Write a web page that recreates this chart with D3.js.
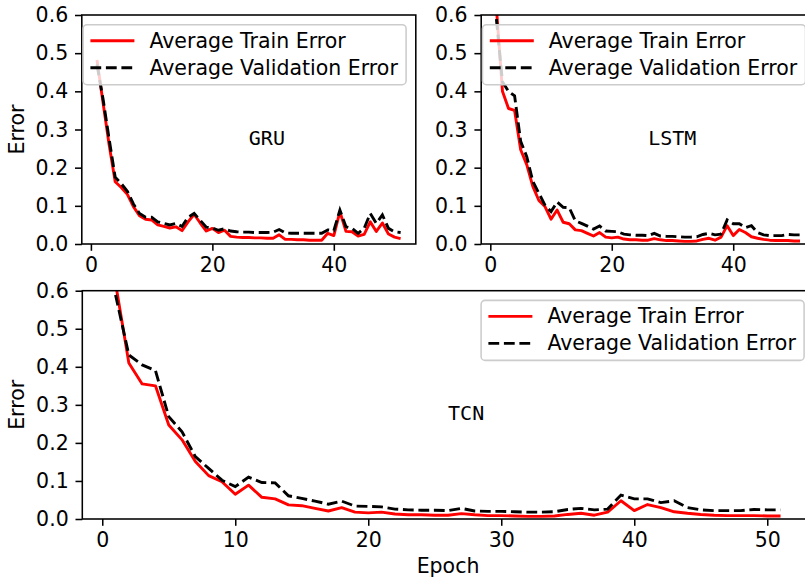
<!DOCTYPE html>
<html>
<head>
<meta charset="utf-8">
<style>
  body { margin: 0; background: #fff; }
  svg { display: block; font-family: "DejaVu Sans", sans-serif; }
</style>
</head>
<body>
<script src="https://cdn.jsdelivr.net/npm/d3@7"></script>
<script>
// ---- data ----
const epochs = [1,2,3,4,5,6,7,8,9,10,11,12,13,14,15,16,17,18,19,20,21,22,23,24,25,26,
  27,28,29,30,31,32,33,34,35,36,37,38,39,40,41,42,43,44,45,46,47,48,49,50,51];

const gruTrain = [0.482,0.37,0.26,0.163,0.148,0.13,0.098,0.074,0.065,0.063,0.050,0.046,0.042,0.045,0.035,
  0.058,0.078,0.055,0.034,0.041,0.030,0.036,0.020,0.018,0.017,0.017,0.016,0.016,0.015,0.015,
  0.024,0.012,0.012,0.011,0.011,0.010,0.010,0.010,0.028,0.022,0.085,0.033,0.032,0.021,0.025,
  0.058,0.033,0.055,0.026,0.018,0.014];
const gruValid = [0.47,0.38,0.275,0.175,0.158,0.138,0.105,0.080,0.070,0.070,0.058,0.054,0.050,0.054,0.046,
  0.070,0.080,0.062,0.044,0.042,0.036,0.040,0.034,0.032,0.031,0.031,0.030,0.030,0.030,0.031,
  0.038,0.029,0.028,0.028,0.028,0.028,0.028,0.028,0.037,0.035,0.089,0.045,0.041,0.028,0.041,
  0.080,0.054,0.076,0.041,0.032,0.030];

const lstmTrain = [0.62,0.40,0.355,0.35,0.247,0.208,0.151,0.114,0.098,0.065,0.089,0.057,0.053,0.037,0.035,
  0.028,0.021,0.030,0.018,0.016,0.018,0.013,0.011,0.011,0.010,0.010,0.014,0.011,0.009,0.009,
  0.008,0.007,0.007,0.008,0.012,0.015,0.010,0.018,0.048,0.022,0.038,0.030,0.019,0.015,0.012,
  0.010,0.009,0.009,0.009,0.008,0.008];
const lstmValid = [0.589,0.425,0.40,0.388,0.269,0.229,0.164,0.133,0.102,0.085,0.110,0.096,0.095,0.061,0.054,
  0.047,0.039,0.047,0.034,0.033,0.032,0.026,0.024,0.023,0.023,0.022,0.028,0.021,0.020,0.020,
  0.019,0.018,0.018,0.019,0.025,0.028,0.024,0.026,0.063,0.053,0.053,0.043,0.048,0.030,0.024,
  0.022,0.022,0.022,0.025,0.024,0.024];

const tcnTrain = [0.62,0.41,0.355,0.35,0.247,0.208,0.151,0.114,0.098,0.065,0.089,0.057,0.053,0.037,0.035,
  0.028,0.021,0.030,0.018,0.016,0.018,0.013,0.011,0.011,0.010,0.010,0.014,0.011,0.009,0.009,
  0.008,0.007,0.007,0.008,0.012,0.015,0.010,0.018,0.048,0.022,0.038,0.030,0.019,0.015,0.012,
  0.010,0.009,0.009,0.009,0.008,0.008];
const tcnValid = [0.589,0.431,0.405,0.39,0.269,0.229,0.164,0.133,0.102,0.085,0.110,0.096,0.095,0.061,0.054,
  0.047,0.039,0.047,0.034,0.033,0.032,0.026,0.024,0.023,0.023,0.022,0.028,0.021,0.020,0.020,
  0.019,0.018,0.018,0.019,0.025,0.028,0.024,0.026,0.063,0.053,0.053,0.043,0.048,0.030,0.024,
  0.022,0.022,0.022,0.025,0.024,0.024];

const yTicks = [0, 0.1, 0.2, 0.3, 0.4, 0.5, 0.6];
const topXTicks = [0, 20, 40];
const bottomXTicks = [0, 10, 20, 30, 40, 50];
const legendLabels = ["Average Train Error", "Average Validation Error"];

// ---- drawing ----
const width = 805, height = 579;
const fs = 20.5;
const svg = d3.select("body").append("svg")
  .attr("width", width)
  .attr("height", height);

function styleAxis(ax) {
  ax.attr("font-size", null).attr("font-family", null);
  ax.select(".domain").remove();
  ax.selectAll(".tick line").attr("stroke", "#000").attr("stroke-width", 1.55);
  ax.selectAll(".tick text").attr("fill", "#000").style("font-size", fs + "px");
}

function panel(id, box, train, valid, name, xTicks, showYLabel, showXLabel) {
  const x = d3.scaleLinear().domain([-1.5, 53.5]).range([box.left, box.left + box.w]);
  const y = d3.scaleLinear().domain([0, 0.6]).range([box.top + box.h, box.top]);
  const g = svg.append("g");

  g.append("clipPath").attr("id", id)
    .append("rect")
    .attr("x", box.left).attr("y", box.top)
    .attr("width", box.w).attr("height", box.h);

  const line = d3.line()
    .x((d, i) => x(epochs[i]))
    .y(d => y(d));

  g.append("path").datum(train)
    .attr("d", line)
    .attr("fill", "none")
    .attr("stroke", "#ff0000")
    .attr("stroke-width", 2.9)
    .attr("stroke-linejoin", "round")
    .attr("clip-path", `url(#${id})`);

  g.append("path").datum(valid)
    .attr("d", line)
    .attr("fill", "none")
    .attr("stroke", "#000")
    .attr("stroke-width", 2.9)
    .attr("stroke-dasharray", "10.8,4.7")
    .attr("clip-path", `url(#${id})`);

  // model name
  g.append("text")
    .attr("x", x(26)).attr("y", y(0.26))
    .attr("font-family", "'DejaVu Sans Mono', monospace")
    .attr("font-size", 20)
    .attr("fill", "#000")
    .text(name);

  // axes
  const ax = g.append("g")
    .attr("transform", `translate(0,${box.top + box.h})`)
    .call(d3.axisBottom(x).tickValues(xTicks).tickSize(6.8).tickPadding(6.8).tickFormat(d3.format("d")));
  styleAxis(ax);

  const ay = g.append("g")
    .attr("transform", `translate(${box.left},0)`)
    .call(d3.axisLeft(y).tickValues(yTicks).tickSize(6.8).tickPadding(6.8).tickFormat(d3.format(".1f")));
  styleAxis(ay);

  // spines
  g.append("rect")
    .attr("x", box.left).attr("y", box.top)
    .attr("width", box.w).attr("height", box.h)
    .attr("fill", "none")
    .attr("stroke", "#000")
    .attr("stroke-width", 1.55);

  if (showYLabel) {
    g.append("text")
      .attr("transform", `translate(17,${box.top + box.h / 2}) rotate(-90)`)
      .attr("text-anchor", "middle")
      .attr("dominant-baseline", "central")
      .attr("font-size", fs)
      .attr("fill", "#000")
      .text("Error");
  }
  if (showXLabel) {
    g.append("text")
      .attr("x", box.left + box.w / 2).attr("y", 566)
      .attr("text-anchor", "middle")
      .attr("dominant-baseline", "central")
      .attr("font-size", fs)
      .attr("fill", "#000")
      .text("Epoch");
  }

  // legend, upper right
  const lw = 323, lh = 60;
  const lx = box.left + box.w - 9.7 - lw, ly = box.top + 9.7;
  const leg = g.append("g").attr("transform", `translate(${lx},${ly})`);
  leg.append("rect")
    .attr("width", lw).attr("height", lh)
    .attr("rx", 4).attr("ry", 4)
    .attr("fill", "#fff").attr("fill-opacity", 0.8)
    .attr("stroke", "#cccccc").attr("stroke-width", 1.55);
  const rows = [
    { label: legendLabels[0], color: "#ff0000", dash: null },
    { label: legendLabels[1], color: "#000", dash: "10.8,4.7" }
  ];
  rows.forEach((r, i) => {
    const ry = 16 + i * 27;
    leg.append("line")
      .attr("x1", 7.3).attr("x2", 51.3)
      .attr("y1", ry).attr("y2", ry)
      .attr("stroke", r.color)
      .attr("stroke-width", 2.9)
      .attr("stroke-dasharray", r.dash);
    leg.append("text")
      .attr("x", 66.3).attr("y", ry)
      .attr("dominant-baseline", "central")
      .attr("font-size", fs)
      .attr("fill", "#000")
      .text(r.label);
  });
}

panel("c1", { left: 81.8, top: 15, w: 334, h: 229 }, gruTrain, gruValid, "GRU", topXTicks, true, false);
panel("c2", { left: 481.2, top: 15, w: 334, h: 229 }, lstmTrain, lstmValid, "LSTM", topXTicks, false, false);
panel("c3", { left: 82.3, top: 290.7, w: 731.5, h: 228.3 }, tcnTrain, tcnValid, "TCN", bottomXTicks, true, true);
</script>
</body>
</html>
